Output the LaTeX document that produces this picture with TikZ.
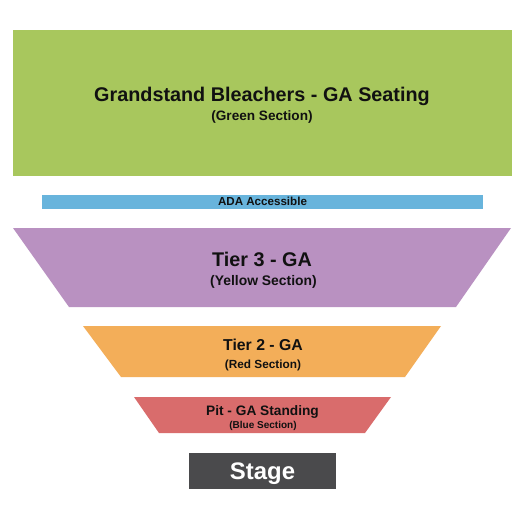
\documentclass[tikz,border=0pt]{standalone}
\usepackage{fontspec}
\setmainfont{Liberation Sans}
\definecolor{cgreen}{HTML}{A8C75D}
\definecolor{cblue}{HTML}{68B4DC}
\definecolor{cpurple}{HTML}{B991C1}
\definecolor{corange}{HTML}{F3AE59}
\definecolor{cred}{HTML}{D96C6C}
\definecolor{cstage}{HTML}{4A4A4C}
\definecolor{ctext}{HTML}{111111}
\tikzset{
  lbl/.style={anchor=base, inner sep=0pt, text=ctext, font=\bfseries\fontsize{#1}{#1}\selectfont},
}
\begin{document}
\begin{tikzpicture}[x=1pt,y=-1pt]
\useasboundingbox (0,0) rectangle (525,525);
\fill[white] (0,0) rectangle (525,525);
% shapes
\fill[cgreen] (13,30) rectangle (512,176);
\fill[cblue] (42,195) rectangle (483,209);
\fill[cpurple] (13,228) -- (511,228) -- (456,307) -- (69,307) -- cycle;
\fill[corange] (83,326) -- (441,326) -- (405,377) -- (121,377) -- cycle;
\fill[cred] (134,397) -- (391,397) -- (365,433) -- (159,433) -- cycle;
\fill[cstage] (189,453) rectangle (336,489);
% labels
\node[lbl=19.8] (gs) at (262,101) {Grandstand Bleachers - GA Seating};
\node[lbl=13.6] (gss) at (262,120) {(Green Section)};
\node[lbl=11.6] (ada) at (262.5,205.5) {ADA Accessible};
\node[lbl=19.8] (t3) at (262,266) {Tier 3 - GA};
\node[lbl=13.9] (t3s) at (263.5,285) {(Yellow Section)};
\node[lbl=15.8] (t2) at (263,350.5) {Tier 2 - GA};
\node[lbl=11.8] (t2s) at (263,368) {(Red Section)};
\node[lbl=13.7] (pit) at (262.5,415.5) {Pit - GA Standing};
\node[lbl=10] (pits) at (263,428) {(Blue Section)};
\node[lbl=23.9, text=white] (stage) at (262.5,479) {Stage};
\end{tikzpicture}
\end{document}
